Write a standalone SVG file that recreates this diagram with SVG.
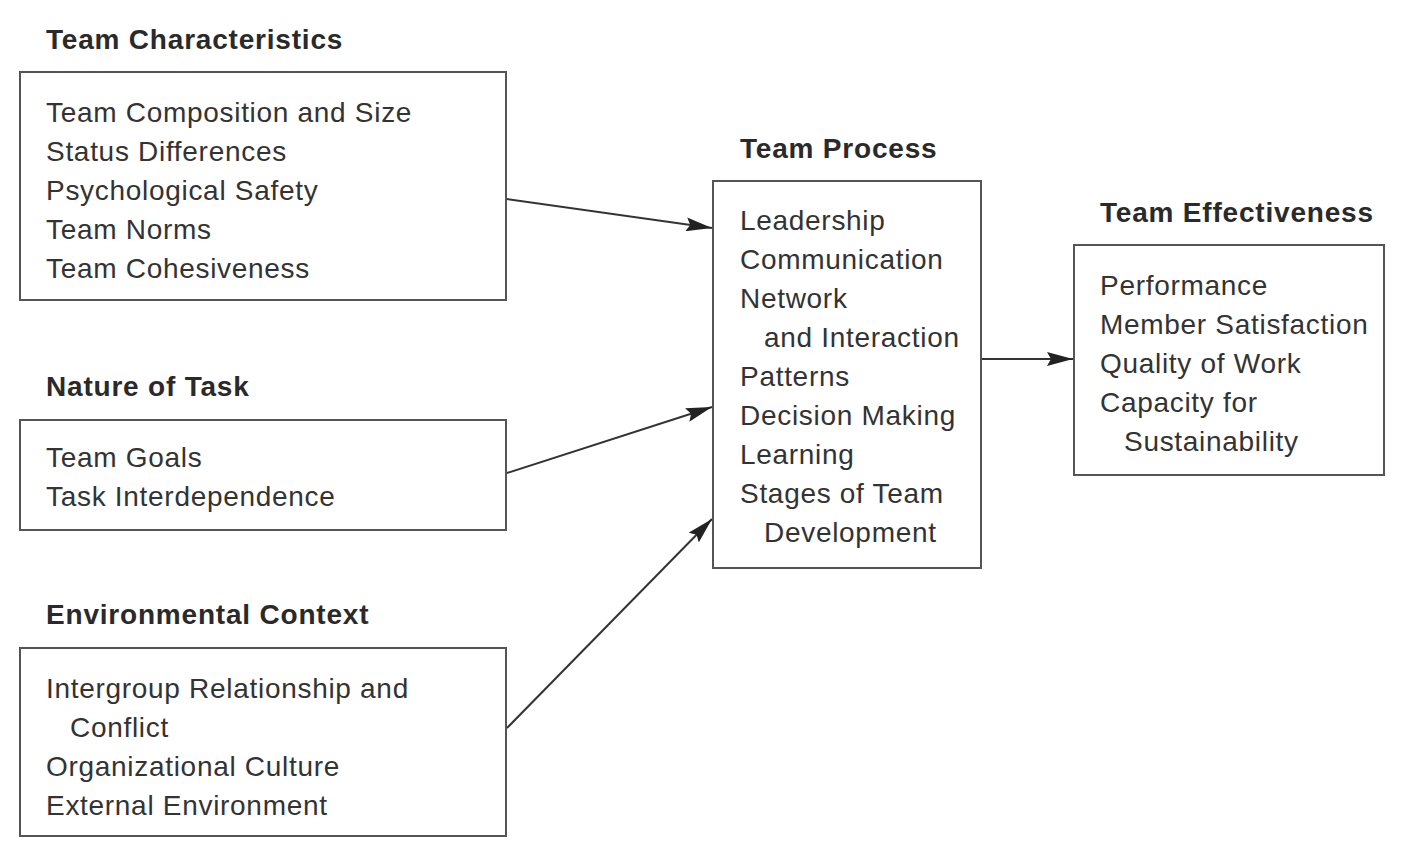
<svg xmlns="http://www.w3.org/2000/svg" width="1417" height="845" viewBox="0 0 1417 845">
<defs>
<style>
.box{fill:#fff;stroke:#555;stroke-width:2}
.t{font-family:"Liberation Sans",Arial,sans-serif;font-size:28px;letter-spacing:0.7px;fill:#333}
.h{font-family:"Liberation Sans",Arial,sans-serif;font-size:28px;letter-spacing:0.8px;font-weight:bold;fill:#2a2a2a}
.c{stroke:#333;stroke-width:2;fill:none}
</style>
<marker id="ah" markerWidth="26" markerHeight="14" refX="26" refY="7" orient="auto" markerUnits="userSpaceOnUse">
<path d="M0,0 L26,7 L0,14 L4,7 Z" fill="#222"/>
</marker>
</defs>
<rect width="1417" height="845" fill="#fff"/>
<g id="connectors">
<line class="c" x1="507" y1="199" x2="712" y2="228" marker-end="url(#ah)"/>
<line class="c" x1="507" y1="473" x2="712" y2="407" marker-end="url(#ah)"/>
<line class="c" x1="507" y1="728" x2="712" y2="519" marker-end="url(#ah)"/>
<line class="c" x1="982" y1="359" x2="1073" y2="359" marker-end="url(#ah)"/>
</g>
<g id="team-characteristics">
<text class="h" x="46" y="49">Team Characteristics</text>
<rect class="box" x="20" y="72" width="486" height="228"/>
<text class="t" x="46" y="122">Team Composition and Size</text>
<text class="t" x="46" y="161">Status Differences</text>
<text class="t" x="46" y="200">Psychological Safety</text>
<text class="t" x="46" y="239">Team Norms</text>
<text class="t" x="46" y="278">Team Cohesiveness</text>
</g>
<g id="nature-of-task">
<text class="h" x="46" y="396">Nature of Task</text>
<rect class="box" x="20" y="420" width="486" height="110"/>
<text class="t" x="46" y="467">Team Goals</text>
<text class="t" x="46" y="506">Task Interdependence</text>
</g>
<g id="environmental-context">
<text class="h" x="46" y="624">Environmental Context</text>
<rect class="box" x="20" y="648" width="486" height="188"/>
<text class="t" x="46" y="698">Intergroup Relationship and</text>
<text class="t" x="70" y="737">Conflict</text>
<text class="t" x="46" y="776">Organizational Culture</text>
<text class="t" x="46" y="815">External Environment</text>
</g>
<g id="team-process">
<text class="h" x="740" y="158">Team Process</text>
<rect class="box" x="713" y="181" width="268" height="387"/>
<text class="t" x="740" y="230">Leadership</text>
<text class="t" x="740" y="269">Communication</text>
<text class="t" x="740" y="308">Network</text>
<text class="t" x="764" y="347">and Interaction</text>
<text class="t" x="740" y="386">Patterns</text>
<text class="t" x="740" y="425">Decision Making</text>
<text class="t" x="740" y="464">Learning</text>
<text class="t" x="740" y="503">Stages of Team</text>
<text class="t" x="764" y="542">Development</text>
</g>
<g id="team-effectiveness">
<text class="h" x="1100" y="222">Team Effectiveness</text>
<rect class="box" x="1074" y="245" width="310" height="230"/>
<text class="t" x="1100" y="295">Performance</text>
<text class="t" x="1100" y="334">Member Satisfaction</text>
<text class="t" x="1100" y="373">Quality of Work</text>
<text class="t" x="1100" y="412">Capacity for</text>
<text class="t" x="1124" y="451">Sustainability</text>
</g>
</svg>
